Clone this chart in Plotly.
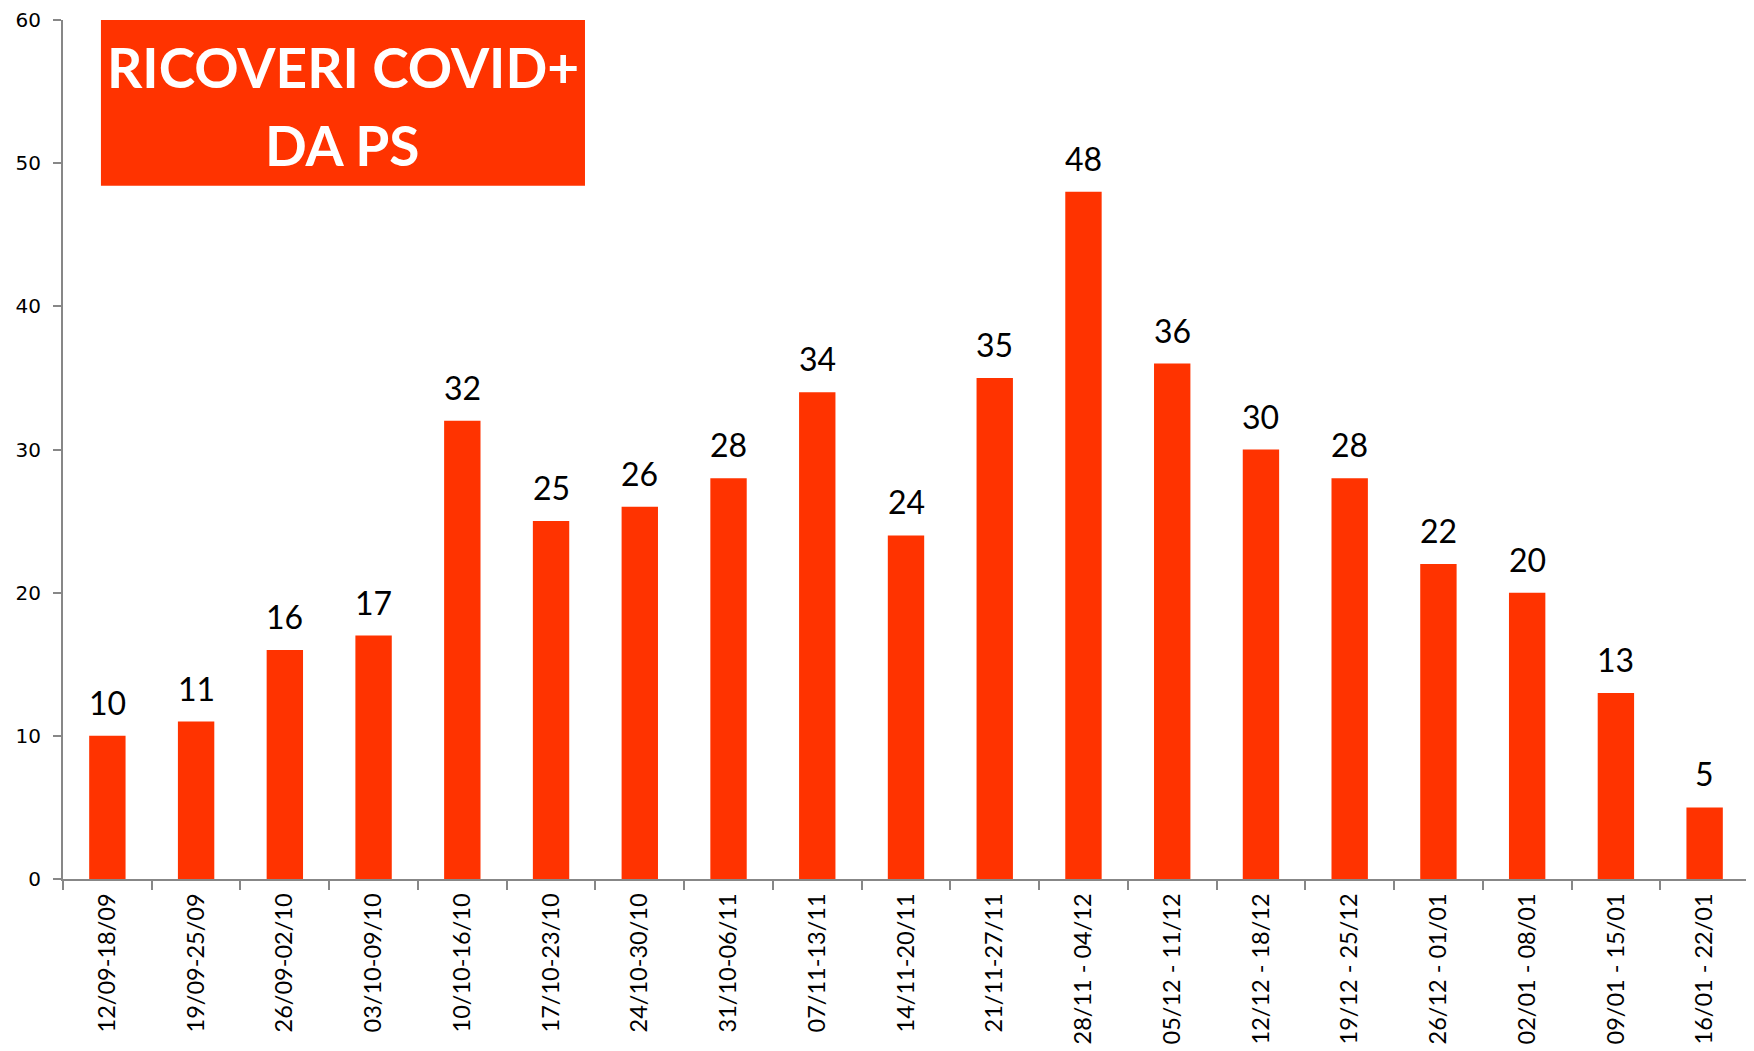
import plotly.graph_objects as go

weeks = [
    "12/09-18/09", "19/09-25/09", "26/09-02/10", "03/10-09/10", "10/10-16/10",
    "17/10-23/10", "24/10-30/10", "31/10-06/11", "07/11-13/11", "14/11-20/11",
    "21/11-27/11", "28/11 - 04/12", "05/12 - 11/12", "12/12 - 18/12",
    "19/12 - 25/12", "26/12 - 01/01", "02/01 - 08/01", "09/01 - 15/01",
    "16/01 - 22/01",
]
ricoveri = [10, 11, 16, 17, 32, 25, 26, 28, 34, 24, 35, 48, 36, 30, 28, 22, 20, 13, 5]
y_ticks = [0, 10, 20, 30, 40, 50, 60]
title_lines = ["RICOVERI COVID+", "DA PS"]

RED = "#FF3300"
AXIS = "#878787"

fig = go.Figure()
fig.add_trace(
    go.Bar(
        x=weeks,
        y=ricoveri,
        marker=dict(color=RED, line=dict(width=0)),
        width=0.41,
    )
)

# value labels above each bar
for week, val in zip(weeks, ricoveri):
    fig.add_annotation(
        x=week, y=val, text=str(val), showarrow=False,
        yanchor="bottom", yshift=12,
        font=dict(family="Lato, sans-serif", size=32, color="black"),
    )

# title box
fig.add_shape(
    type="rect", xref="paper", yref="paper",
    x0=0.0225, x1=0.3096, y0=0.807, y1=1.0,
    fillcolor=RED, line=dict(width=0), layer="below",
)
for line, ypos in zip(title_lines, [0.9454, 0.8548]):
    fig.add_annotation(
        xref="paper", yref="paper", x=0.166, y=ypos,
        xanchor="center", yanchor="middle",
        text="<b>" + line + "</b>", showarrow=False,
        font=dict(family="Lato, sans-serif", size=55, color="white"),
    )

fig.update_layout(
    width=1746, height=1043,
    margin=dict(l=55, r=5, t=12, b=172),
    plot_bgcolor="white", paper_bgcolor="white",
    showlegend=False,
    bargap=0.6,
)
fig.update_xaxes(
    showline=True, linecolor=AXIS, linewidth=2,
    ticks="outside", tickson="boundaries", ticklen=9, tickcolor=AXIS, tickwidth=2,
    tickangle=-90, tickfont=dict(family="Lato, sans-serif", size=23.5, color="black"),
    ticklabelstandoff=3,
    showgrid=False, automargin=False,
)
fig.update_yaxes(
    range=[0, 60], tickvals=y_ticks,
    showline=True, linecolor=AXIS, linewidth=2,
    ticks="outside", ticklen=8, tickcolor=AXIS, tickwidth=2,
    tickfont=dict(family="DejaVu Sans, sans-serif", size=20, color="black"),
    ticklabelstandoff=8, ticklabeloverflow="allow",
    showgrid=False, zeroline=False, automargin=False,
)

fig.write_html("out.html")
